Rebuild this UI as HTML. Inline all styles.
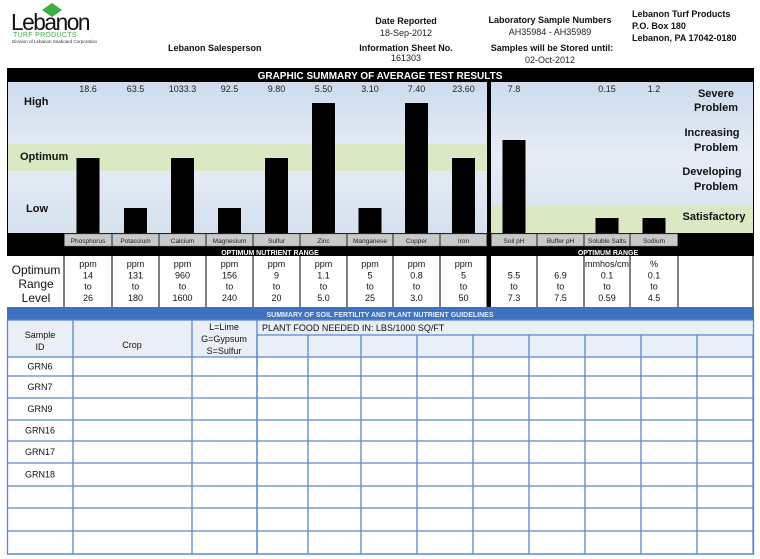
<!DOCTYPE html>
<html><head><meta charset="utf-8">
<style>
html,body{margin:0;padding:0;background:#fff;}
svg{display:block;font-family:"Liberation Sans",Arial,sans-serif;}
</style></head>
<body>
<svg id="page" width="760" height="559" viewBox="0 0 760 559" xmlns="http://www.w3.org/2000/svg">
<defs>
<linearGradient id="bg" x1="0" y1="0" x2="0" y2="1">
<stop offset="0" stop-color="#cddbed"/><stop offset="0.5" stop-color="#e6edf6"/><stop offset="1" stop-color="#d5e1ef"/>
</linearGradient>
</defs>
<g>
<polygon points="52,3 62,10 52,17 42,10" fill="#3cb043"/>
<text x="11" y="30" font-size="23" fill="#111" letter-spacing="-1.5" textLength="78" lengthAdjust="spacingAndGlyphs">Lebanon</text>
<text x="13" y="37" font-size="7" fill="#3cb043" letter-spacing="0.3">TURF PRODUCTS</text>
<text x="12" y="43" font-size="4.5" fill="#333">Division of Lebanon Seaboard Corporation</text>
</g>
<g font-size="9" font-weight="bold" fill="#111">
<text x="168" y="51">Lebanon Salesperson</text>
<text x="406" y="24" text-anchor="middle">Date Reported</text>
<text x="406" y="51" text-anchor="middle">Information Sheet No.</text>
<text x="550" y="23" text-anchor="middle">Laboratory Sample Numbers</text>
<text x="552" y="51" text-anchor="middle">Samples will be Stored until:</text>
<text x="632" y="17">Lebanon Turf Products</text>
<text x="632" y="29">P.O. Box 180</text>
<text x="632" y="41">Lebanon, PA  17042-0180</text>
</g>
<g font-size="9" fill="#222">
<text x="406" y="36" text-anchor="middle">18-Sep-2012</text>
<text x="406" y="61" text-anchor="middle">161303</text>
<text x="550" y="35" text-anchor="middle">AH35984 - AH35989</text>
<text x="550" y="63" text-anchor="middle">02-Oct-2012</text>
</g>
<rect x="7" y="68" width="747" height="188" fill="#000"/>
<text x="380" y="79" font-size="10" font-weight="bold" fill="#fff" text-anchor="middle">GRAPHIC SUMMARY OF AVERAGE TEST RESULTS</text>
<rect x="8" y="82" width="479" height="151" fill="url(#bg)"/>
<rect x="491" y="82" width="262" height="151" fill="url(#bg)"/>
<rect x="8" y="144" width="479" height="27" fill="#dbe8c4"/>
<rect x="491" y="205" width="262" height="28" fill="#dbe8c4"/>
<g font-size="11" font-weight="bold" fill="#111">
<text x="24" y="105">High</text>
<text x="20" y="160">Optimum</text>
<text x="26" y="212">Low</text>
<g text-anchor="middle">
<text x="716" y="97">Severe</text><text x="716" y="111">Problem</text>
<text x="712" y="136">Increasing</text><text x="716" y="151">Problem</text>
<text x="712" y="175">Developing</text><text x="716" y="190">Problem</text>
<text x="714" y="220">Satisfactory</text>
</g></g>
<g id="bars"></g>
<g id="labels"></g>
<text x="270" y="255" font-size="7" font-weight="bold" fill="#fff" text-anchor="middle">OPTIMUM NUTRIENT RANGE</text>
<text x="608" y="255" font-size="7" font-weight="bold" fill="#fff" text-anchor="middle">OPTIMUM RANGE</text>
<rect x="8" y="256" width="745" height="51" fill="#fff"/>
<rect x="487" y="256" width="4" height="51" fill="#000"/>
<g font-size="12" fill="#111" text-anchor="middle">
<text x="36" y="274">Optimum</text><text x="36" y="288">Range</text><text x="36" y="302">Level</text>
</g>
<g id="ranges"></g>
<line x1="753" y1="256" x2="753" y2="307" stroke="#000"/>
<rect x="7" y="307" width="747" height="13" fill="#3f72c0"/>
<text x="380" y="317" font-size="7" font-weight="bold" fill="#e8eefa" text-anchor="middle">SUMMARY OF SOIL FERTILITY AND PLANT NUTRIENT GUIDELINES</text>
<rect x="7" y="320" width="747" height="37" fill="#e9eef7"/>
<g id="table" stroke="#5b87cc" stroke-width="1.3" fill="none"></g>
<g font-size="9" fill="#111" text-anchor="middle">
<text x="40" y="338">Sample</text><text x="40" y="350">ID</text>
<text x="132" y="348">Crop</text>
<text x="224" y="330">L=Lime</text><text x="224" y="342">G=Gypsum</text><text x="224" y="354">S=Sulfur</text>
<text x="262" y="331" text-anchor="start" font-size="9">PLANT FOOD NEEDED IN:  LBS/1000 SQ/FT</text>
</g>
<g id="samples" font-size="9" fill="#111" text-anchor="middle"></g>
<script>
const NS="http://www.w3.org/2000/svg";
const categories=["Phosphorus","Potassium","Calcium","Magnesium","Sulfur","Zinc","Manganese","Copper","Iron","Soil pH","Buffer pH","Soluble Salts","Sodium"];
const levels=[75,25,75,25,75,130,25,130,75,93,0,15,15];
const valueLabels=["18.6","63.5","1033.3","92.5","9.80","5.50","3.10","7.40","23.60","7.8","","0.15","1.2"];
const rangeUnits=["ppm","ppm","ppm","ppm","ppm","ppm","ppm","ppm","ppm","","","mmhos/cm","%"];
const rangeLow=["14","131","960","156","9","1.1","5","0.8","5","5.5","6.9","0.1","0.1"];
const rangeHigh=["26","180","1600","240","20","5.0","25","3.0","50","7.3","7.5","0.59","4.5"];
const sampleIds=["GRN6","GRN7","GRN9","GRN16","GRN17","GRN18","","",""];
const colEdges=[64,112,159,206,253,300,347,393,440,491,537,584,630,678];
const yMax=150,yBase=233,yTop=83;
function y(v){return yBase-(v/yMax)*(yBase-yTop);}
function mk(tag,attrs,parent,txt){const e=document.createElementNS(NS,tag);for(const k in attrs)e.setAttribute(k,attrs[k]);if(txt!==undefined)e.textContent=txt;parent.appendChild(e);return e;}
const gb=document.getElementById('bars'),gl=document.getElementById('labels'),gr=document.getElementById('ranges');
categories.forEach((c,i)=>{
  const x0=colEdges[i],x1=colEdges[i+1]-(i===8?4:0);const cx=(x0+x1)/2;
  if(levels[i]>0){const r=mk('rect',{x:cx-11.5,y:y(levels[i]),width:23,height:yBase-y(levels[i]),fill:'#000'},gb);
  
  }
  const t=mk('text',{x:cx,y:92,'font-size':9,fill:'#222','text-anchor':'middle'},gb,valueLabels[i]);
  
  
  const b=mk('rect',{x:x0+0.5,y:234,width:x1-x0-1,height:12,fill:'#c9c9c9',stroke:'#888','stroke-width':0.5},gl);
  
  
  const l=mk('text',{x:cx,y:243,'font-size':6.5,fill:'#222','text-anchor':'middle'},gl,c);
  
  
  mk('line',{x1:x1,y1:256,x2:x1,y2:307,stroke:'#000','stroke-width':1},gr);
  const lines=[rangeUnits[i],rangeLow[i],'to',rangeHigh[i]];
  lines.forEach((s,k)=>{const rt=mk('text',{x:cx,y:267+k*11.3,'font-size':9,fill:'#111','text-anchor':'middle'},gr,s);
  
  });
});
mk('line',{x1:64,y1:256,x2:64,y2:307,stroke:'#000'},gr);
const gt=document.getElementById('table');
const rowLines=[357,376,398,420,441,463,486,508,531,554];
const subCols=[257,308,361,417,473,529,585,641,697,753];
mk('rect',{x:7.5,y:320,width:746,height:234},gt);
[73,192,257].forEach(x=>mk('line',{x1:x,y1:320,x2:x,y2:554},gt));
mk('line',{x1:257,y1:335,x2:754,y2:335},gt);
subCols.forEach(x=>mk('line',{x1:x,y1:335,x2:x,y2:554},gt));
rowLines.forEach(yy=>mk('line',{x1:7,y1:yy,x2:754,y2:yy},gt));
const gs=document.getElementById('samples');
sampleIds.forEach((s,i)=>{const t=mk('text',{x:40,y:(rowLines[i]+rowLines[i+1])/2+3},gs,s);

});
</script>
</svg>
</body></html>
